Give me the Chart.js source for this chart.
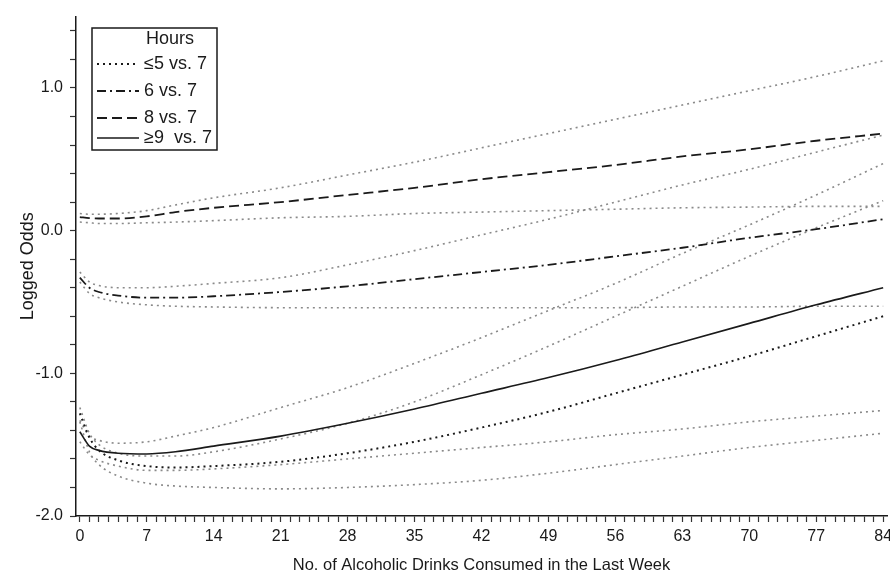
<!DOCTYPE html>
<html>
<head>
<meta charset="utf-8">
<script src="https://cdn.jsdelivr.net/npm/chart.js@4.4.1/dist/chart.umd.min.js"></script>
<style>
  html, body { margin: 0; padding: 0; background: #fff; }
</style>
</head>
<body>
<canvas id="canvas" width="890" height="580"></canvas>
<script>
const FONT = '"Liberation Sans", Arial, sans-serif';

// drinks per week (x positions the curves were read at)
const drinks = [0, 1, 2, 4, 7, 10, 14, 21, 28, 35, 42, 49, 56, 63, 70, 77, 84];

// <=5 vs 7
const le5Est   = [-1.28, -1.45, -1.54, -1.61, -1.65, -1.66, -1.65, -1.62, -1.56, -1.48, -1.38, -1.27, -1.14, -1.01, -0.88, -0.74, -0.60];
const le5Upper = [-1.24, -1.42, -1.50, -1.56, -1.58, -1.58, -1.55, -1.46, -1.35, -1.20, -1.01, -0.81, -0.60, -0.39, -0.18, 0.02, 0.21];
const le5Lower = [-1.34, -1.55, -1.64, -1.72, -1.77, -1.79, -1.80, -1.81, -1.80, -1.78, -1.75, -1.70, -1.64, -1.58, -1.52, -1.47, -1.42];

// 6 vs 7
const h6Est   = [-0.33, -0.40, -0.43, -0.455, -0.47, -0.47, -0.46, -0.43, -0.39, -0.34, -0.29, -0.24, -0.18, -0.12, -0.05, 0.01, 0.08];
const h6Upper = [-0.29, -0.36, -0.385, -0.40, -0.40, -0.39, -0.37, -0.33, -0.24, -0.14, -0.03, 0.08, 0.20, 0.32, 0.43, 0.55, 0.67];
const h6Lower = [-0.36, -0.44, -0.47, -0.50, -0.52, -0.53, -0.535, -0.54, -0.54, -0.54, -0.54, -0.54, -0.54, -0.535, -0.535, -0.53, -0.53];

// 8 vs 7
const h8Est   = [0.095, 0.088, 0.085, 0.085, 0.10, 0.13, 0.16, 0.20, 0.25, 0.30, 0.36, 0.41, 0.46, 0.52, 0.57, 0.63, 0.68];
const h8Upper = [0.12, 0.115, 0.115, 0.12, 0.14, 0.18, 0.23, 0.30, 0.39, 0.48, 0.58, 0.68, 0.78, 0.88, 0.98, 1.08, 1.19];
const h8Lower = [0.06, 0.055, 0.05, 0.05, 0.055, 0.06, 0.07, 0.09, 0.10, 0.12, 0.13, 0.14, 0.15, 0.16, 0.165, 0.17, 0.17];

// >=9 vs 7
const ge9Est   = [-1.41, -1.51, -1.54, -1.56, -1.565, -1.55, -1.51, -1.44, -1.35, -1.25, -1.14, -1.03, -0.91, -0.78, -0.65, -0.52, -0.40];
const ge9Upper = [-1.33, -1.44, -1.47, -1.49, -1.48, -1.44, -1.38, -1.24, -1.10, -0.93, -0.75, -0.56, -0.37, -0.16, 0.04, 0.25, 0.47];
const ge9Lower = [-1.48, -1.57, -1.61, -1.65, -1.68, -1.68, -1.67, -1.64, -1.60, -1.56, -1.52, -1.48, -1.43, -1.39, -1.34, -1.30, -1.26];

const legendLabels = ["\u22645 vs. 7", "6 vs. 7", "8 vs. 7", "\u22659  vs. 7"];
const xLabelTicks = [0, 7, 14, 21, 28, 35, 42, 49, 56, 63, 70, 77, 84];
const yLabelTicks = [-2.0, -1.0, 0.0, 1.0];

const points = (ys) => drinks.map((x, i) => ({ x: x, y: ys[i] }));

const estLine = (label, ys, dash, width) => ({
  label: label,
  data: points(ys),
  borderColor: "#1a1a1a",
  borderWidth: width,
  borderDash: dash,
  pointRadius: 0,
  cubicInterpolationMode: "monotone",
  fill: false
});

const ciLine = (label, ys) => ({
  label: label,
  data: points(ys),
  borderColor: "#8a8a8a",
  borderWidth: 1.6,
  borderDash: [2, 4],
  pointRadius: 0,
  cubicInterpolationMode: "monotone",
  fill: false
});

const datasets = [
  estLine(legendLabels[0], le5Est, [2, 4], 2),
  estLine(legendLabels[1], h6Est, [9, 4, 2, 4], 1.8),
  estLine(legendLabels[2], h8Est, [10, 5], 1.8),
  estLine(legendLabels[3], ge9Est, [], 1.6),
  ciLine("le5 upper", le5Upper),
  ciLine("le5 lower", le5Lower),
  ciLine("6 upper", h6Upper),
  ciLine("6 lower", h6Lower),
  ciLine("8 upper", h8Upper),
  ciLine("8 lower", h8Lower),
  ciLine("9 upper", ge9Upper),
  ciLine("9 lower", ge9Lower)
];

// legend box drawn inside the plot, top left
const hoursLegend = {
  id: "hoursLegend",
  afterDraw(chart) {
    const ctx = chart.ctx;
    ctx.save();
    ctx.strokeStyle = "#1a1a1a";
    ctx.lineWidth = 1.5;
    ctx.strokeRect(92, 28, 125, 122);
    ctx.fillStyle = "#1a1a1a";
    ctx.font = "18px " + FONT;
    ctx.textBaseline = "middle";
    ctx.textAlign = "left";
    ctx.fillText("Hours", 146, 39);
    const rows = [64, 91, 118, 138];
    for (let i = 0; i < 4; i++) {
      const ds = chart.data.datasets[i];
      ctx.beginPath();
      ctx.setLineDash(ds.borderDash);
      ctx.lineWidth = ds.borderWidth;
      ctx.strokeStyle = ds.borderColor;
      ctx.moveTo(97, rows[i]);
      ctx.lineTo(139, rows[i]);
      ctx.stroke();
      ctx.setLineDash([]);
      ctx.fillText(ds.label, 144, rows[i]);
    }
    ctx.restore();
  }
};

const axisGrid = {
  display: true,
  drawOnChartArea: false,
  drawTicks: true,
  tickLength: 6,
  tickColor: "#333",
  tickWidth: 1.2
};

new Chart(document.getElementById("canvas").getContext("2d"), {
  type: "line",
  data: { datasets: datasets },
  plugins: [hoursLegend],
  options: {
    responsive: false,
    animation: false,
    layout: { padding: { top: 14, right: 3, left: 0, bottom: 0 } },
    plugins: {
      legend: { display: false },
      tooltip: { enabled: false }
    },
    scales: {
      x: {
        type: "linear",
        min: -0.4,
        max: 84.4,
        afterBuildTicks: (s) => {
          s.ticks = Array.from({ length: 85 }, (_, i) => ({ value: i }));
        },
        afterFit: (s) => {
          s.height = 64;
          s.paddingLeft = 0;
          s.paddingRight = 0;
        },
        ticks: {
          autoSkip: false,
          maxRotation: 0,
          padding: 5,
          color: "#1a1a1a",
          font: { family: FONT, size: 16 },
          callback: (v) => xLabelTicks.includes(v) ? String(v) : ""
        },
        grid: axisGrid,
        border: { display: true, color: "#1a1a1a", width: 1.5 },
        title: {
          display: true,
          text: "No. of Alcoholic Drinks Consumed in the Last Week",
          color: "#1a1a1a",
          font: { family: FONT, size: 16.5 },
          padding: { top: 0, bottom: 5 }
        }
      },
      y: {
        type: "linear",
        min: -2.0,
        max: 1.5,
        afterBuildTicks: (s) => {
          s.ticks = Array.from({ length: 18 }, (_, i) => ({ value: Math.round((-2 + i * 0.2) * 10) / 10 }));
        },
        afterFit: (s) => { s.width = 76; },
        ticks: {
          autoSkip: false,
          padding: 7,
          color: "#1a1a1a",
          font: { family: FONT, size: 16 },
          callback: (v) => yLabelTicks.includes(v) ? v.toFixed(1) : ""
        },
        grid: axisGrid,
        border: { display: true, color: "#1a1a1a", width: 1.5 },
        title: {
          display: true,
          text: "Logged Odds",
          color: "#1a1a1a",
          font: { family: FONT, size: 18 },
          padding: { top: 17, bottom: 0 }
        }
      }
    }
  }
});
</script>
</body>
</html>
